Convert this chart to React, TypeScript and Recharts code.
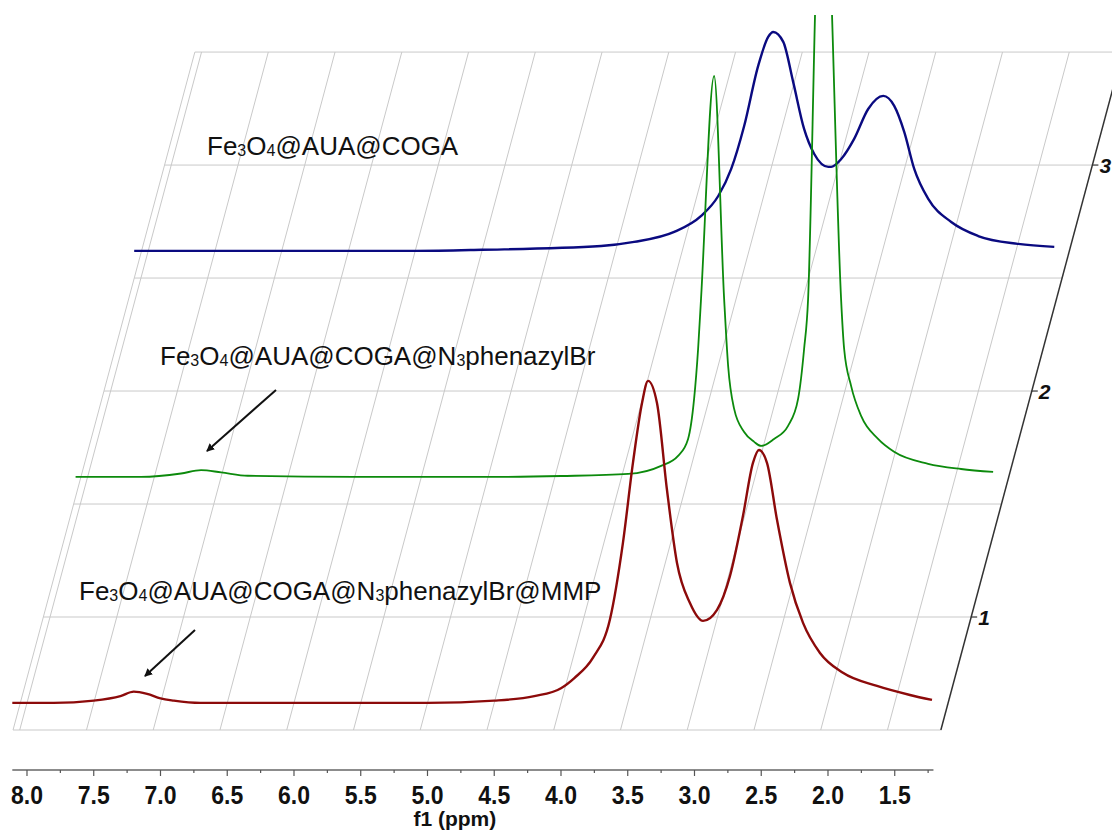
import React from 'react';
import { ComposedChart, Line, XAxis, YAxis, ReferenceLine, ReferenceDot } from 'recharts';

// chemical shift axis
const PPM_TICKS = [8, 7.75, 7.5, 7.25, 7, 6.75, 6.5, 6.25, 6, 5.75, 5.5, 5.25, 5, 4.75, 4.5, 4.25, 4, 3.75, 3.5, 3.25, 3, 2.75, 2.5, 2.25, 2, 1.75, 1.5, 1.25];
const PPM_GRID = [8, 7.5, 7, 6.5, 6, 5.5, 5, 4.5, 4, 3.5, 3, 2.5, 2, 1.5];

// stack (depth) axis
const DEPTH_TICKS = [1, 2, 3];
const DEPTH_GRID = [0.5, 1, 1.5, 2, 2.5, 3, 3.5];

// spectrum 1: Fe3O4@AUA@COGA@N3phenazylBr@MMP
const redPpm = [8.11, 7.8, 7.5, 7.3, 7.2, 7.1, 7.0, 6.9, 6.7, 6.0, 5.0, 4.5, 4.2, 4.0, 3.9, 3.76, 3.633, 3.536, 3.461, 3.393, 3.348, 3.281, 3.206, 3.131, 3.034, 2.936, 2.831, 2.734, 2.637, 2.562, 2.517, 2.457, 2.382, 2.285, 2.187, 2.06, 1.888, 1.633, 1.386, 1.221];
const redInt = [0, 0, 0.01, 0.03, 0.05, 0.04, 0.02, 0.01, 0, 0, 0, 0.01, 0.03, 0.065, 0.11, 0.2, 0.37, 0.708, 1.062, 1.327, 1.425, 1.327, 0.942, 0.619, 0.442, 0.363, 0.412, 0.562, 0.827, 1.062, 1.119, 1.062, 0.81, 0.531, 0.354, 0.221, 0.133, 0.075, 0.035, 0.013];

// spectrum 2: Fe3O4@AUA@COGA@N3phenazylBr
const greenPpm = [8.09, 7.6, 7.3, 7.15, 7.0, 6.8, 6.0, 5.0, 4.453, 3.951, 3.704, 3.577, 3.502, 3.457, 3.427, 3.405, 3.307, 3.232, 3.202, 3.157, 3.082, 3.007, 2.955, 2.858, 2.753, 2.678, 2.633, 2.603, 2.551, 2.491, 2.424, 2.356, 2.333, 2.281, 2.206, 2.079, 1.959, 1.704, 1.457, 1.217];
const greenInt = [0, 0, 0.015, 0.03, 0.02, 0.005, 0, 0, 0.004, 0.013, 0.049, 0.093, 0.168, 0.345, 0.566, 0.788, 1.774, 0.788, 0.491, 0.301, 0.199, 0.155, 0.137, 0.168, 0.226, 0.345, 0.566, 0.788, 2.05, 3.4, 2.05, 0.788, 0.566, 0.403, 0.27, 0.168, 0.111, 0.058, 0.035, 0.022];

// spectrum 3: Fe3O4@AUA@COGA
const bluePpm = [8.105, 7.0, 6.0, 5.5, 4.607, 4.36, 4.06, 3.858, 3.73, 3.633, 3.536, 3.431, 3.356, 3.318, 3.243, 3.169, 3.087, 3.011, 2.906, 2.884, 2.809, 2.712, 2.607, 2.494, 2.412, 2.337, 2.262, 2.157, 1.985, 1.783, 1.483, 1.213];
const blueInt = [0, 0, 0, 0.005, 0.022, 0.04, 0.084, 0.155, 0.243, 0.363, 0.553, 0.819, 0.947, 0.969, 0.925, 0.748, 0.54, 0.429, 0.372, 0.372, 0.407, 0.496, 0.628, 0.686, 0.642, 0.527, 0.363, 0.23, 0.128, 0.066, 0.031, 0.018];

// geometry of the stacked plot
const BASE_DROP = 0.38; // baseline sits below its depth tick
const SKEW = 0.454; // ppm shift per depth unit
const REF_DEPTH = 1 - BASE_DROP;
const PLANE_LEFT = 8.05;
const PLANE_RIGHT = 1.1;
const AXIS_FROM = 8.11;
const AXIS_TO = 1.21;
const X_DOMAIN = [-0.1274, 8.2022];
const Y_DOMAIN = [0.323, 3.664];

const skewX = (ppm: number, depth: number) => ppm - SKEW * (depth - REF_DEPTH);

const toPoints = (ppm: number[], inten: number[], depth: number) => {
  const base = depth - BASE_DROP;
  return ppm.map((p, i) => ({ x: skewX(p, base), y: base + inten[i] }));
};

const redData = toPoints(redPpm, redInt, 1);
const greenData = toPoints(greenPpm, greenInt, 2);
const blueData = toPoints(bluePpm, blueInt, 3);

const FONT = '"Liberation Sans", Arial, sans-serif';
const GRID = '#c9c9c9';

function PpmTick(props: any) {
  const { x, y, payload } = props;
  const v = payload.value;
  const major = Math.abs(v * 2 - Math.round(v * 2)) < 1e-6;
  return (
    <g>
      <line x1={x} y1={y} x2={x} y2={y + (major ? 6 : 3)} stroke="#555" strokeWidth={1.2} />
      {major && (
        <text
          transform={`translate(${x},${y + 34}) scale(1,1.15)`}
          textAnchor="middle"
          fontFamily={FONT}
          fontWeight="bold"
          fontSize={23}
          fill="#111"
        >
          {v.toFixed(1)}
        </text>
      )}
      {v === 4.75 && (
        <text
          transform={`translate(${x - 6},${y + 56})`}
          textAnchor="middle"
          fontFamily={FONT}
          fontWeight="bold"
          fontSize={21}
          fill="#111"
        >
          f1 (ppm)
        </text>
      )}
    </g>
  );
}

function DepthTick(label: string) {
  return (props: any) => {
    const { cx, cy } = props;
    return (
      <g>
        <line x1={cx} y1={cy} x2={cx + 6} y2={cy} stroke="#333" strokeWidth={1.2} />
        <text
          x={cx + 7}
          y={cy + 8}
          fontFamily={FONT}
          fontWeight="bold"
          fontStyle="italic"
          fontSize={21}
          fill="#111"
        >
          {label}
        </text>
      </g>
    );
  };
}

function Formula({ x, y, tail }: { x: number; y: number; tail: React.ReactNode }) {
  return (
    <text x={x} y={y} fontFamily={FONT} fontSize={26} fill="#111">
      Fe<tspan fontSize={16} dy={1}>3</tspan>
      <tspan dy={-1}>O</tspan>
      <tspan fontSize={16} dy={1}>4</tspan>
      <tspan dy={-1}>{tail}</tspan>
    </text>
  );
}

export default function App() {
  return (
    <div style={{ position: 'relative', width: 1112, height: 834, overflow: 'hidden', background: '#fff' }}>
      <style>{'body{margin:0;overflow:hidden;}'}</style>
      <ComposedChart width={1112} height={834} margin={{ top: 15, right: 0, bottom: 0, left: 0 }}>
        <XAxis
          dataKey="x"
          type="number"
          domain={X_DOMAIN}
          allowDataOverflow
          reversed
          ticks={PPM_TICKS}
          interval={0}
          axisLine={false}
          tickLine={false}
          tickSize={0}
          tickMargin={0}
          height={64}
          tick={<PpmTick />}
        />
        <YAxis type="number" dataKey="y" domain={Y_DOMAIN} allowDataOverflow hide />

        {DEPTH_GRID.map((d) => (
          <ReferenceLine
            key={`h${d}`}
            segment={[
              { x: skewX(PLANE_LEFT, d), y: d },
              { x: skewX(PLANE_RIGHT, d), y: d },
            ]}
            stroke={GRID}
            strokeWidth={1}
            ifOverflow="hidden"
          />
        ))}
        {[PLANE_LEFT, ...PPM_GRID].map((p) => (
          <ReferenceLine
            key={`s${p}`}
            segment={[
              { x: skewX(p, 0.5), y: 0.5 },
              { x: skewX(p, 3.5), y: 3.5 },
            ]}
            stroke={GRID}
            strokeWidth={1}
            ifOverflow="hidden"
          />
        ))}
        <ReferenceLine
          segment={[
            { x: skewX(PLANE_RIGHT, 0.5), y: 0.5 },
            { x: skewX(PLANE_RIGHT, 3.5), y: 3.5 },
          ]}
          stroke="#333"
          strokeWidth={1.5}
          ifOverflow="hidden"
        />
        {DEPTH_TICKS.map((d) => (
          <ReferenceDot
            key={`d${d}`}
            x={skewX(PLANE_RIGHT, d)}
            y={d}
            r={0}
            ifOverflow="visible"
            shape={DepthTick(String(d))}
          />
        ))}
        <ReferenceLine
          segment={[
            { x: AXIS_FROM, y: Y_DOMAIN[0] },
            { x: AXIS_TO, y: Y_DOMAIN[0] },
          ]}
          stroke="#666"
          strokeWidth={1.5}
          ifOverflow="visible"
        />

        <Line data={blueData} dataKey="y" type="monotone" stroke="#0a0a80" strokeWidth={2.4} dot={false} isAnimationActive={false} />
        <Line data={greenData} dataKey="y" type="monotone" stroke="#0c8a0c" strokeWidth={1.8} dot={false} isAnimationActive={false} />
        <Line data={redData} dataKey="y" type="monotone" stroke="#8c0a0a" strokeWidth={2.4} dot={false} isAnimationActive={false} />
      </ComposedChart>

      <svg width={1112} height={834} style={{ position: 'absolute', left: 0, top: 0, pointerEvents: 'none' }}>
        <defs>
          <marker id="head" markerWidth="8" markerHeight="8" refX="7" refY="4" orient="auto" markerUnits="userSpaceOnUse">
            <path d="M0,0 L8,4 L0,8 Z" fill="#111" />
          </marker>
        </defs>
        <Formula x={207} y={155} tail="@AUA@COGA" />
        <Formula
          x={160}
          y={365}
          tail={
            <>
              @AUA@COGA@N<tspan fontSize={16} dy={1}>3</tspan>
              <tspan dy={-1}>phenazylBr</tspan>
            </>
          }
        />
        <Formula
          x={79}
          y={600}
          tail={
            <>
              @AUA@COGA@N<tspan fontSize={16} dy={1}>3</tspan>
              <tspan dy={-1}>phenazylBr@MMP</tspan>
            </>
          }
        />
        <line x1={276} y1={390} x2={207} y2={451} stroke="#111" strokeWidth={2} markerEnd="url(#head)" />
        <line x1={195} y1={630} x2={145} y2={676} stroke="#111" strokeWidth={2} markerEnd="url(#head)" />
      </svg>
    </div>
  );
}
